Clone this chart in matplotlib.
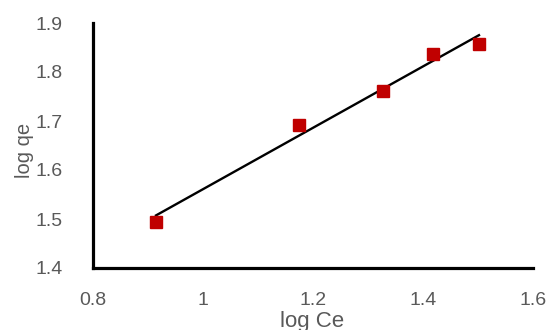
import numpy as np
import matplotlib
matplotlib.use("Agg")
import matplotlib.pyplot as plt

log_ce = [0.9145, 1.1745, 1.3267, 1.4176, 1.5018]
log_qe = [1.4945, 1.692, 1.761, 1.836, 1.857]
x_ticks = [0.8, 1.0, 1.2, 1.4, 1.6]
x_tick_labels = ["0.8", "1", "1.2", "1.4", "1.6"]
y_ticks = [1.4, 1.5, 1.6, 1.7, 1.8, 1.9]
y_tick_labels = ["1.4", "1.5", "1.6", "1.7", "1.8", "1.9"]

plt.rcParams['font.family'] = ['Liberation Sans', 'DejaVu Sans']

fig = plt.figure(figsize=(5.47, 3.30), dpi=100)
ax = fig.add_axes([93/547, 62/330, 440/547, 245/330])

slope, intercept = np.polyfit(log_ce, log_qe, 1)
xf = np.array([min(log_ce), max(log_ce)])
ax.plot(xf, slope * xf + intercept, color='black', lw=1.7, zorder=2)
ax.plot(log_ce, log_qe, 's', color='#C00000', markersize=8, zorder=3)

ax.set_xlim(0.8, 1.6)
ax.set_ylim(1.4, 1.9)
ax.set_xticks(x_ticks)
ax.set_xticklabels(x_tick_labels)
ax.set_yticks(y_ticks)
ax.set_yticklabels(y_tick_labels)
ax.tick_params(length=0, labelsize=14, labelcolor='#595959')
ax.tick_params(axis='x', pad=17)
ax.tick_params(axis='y', pad=22)

for s in ['top', 'right']:
    ax.spines[s].set_visible(False)
for s in ['left', 'bottom']:
    ax.spines[s].set_linewidth(2.3)
    ax.spines[s].set_color('black')

ax.set_xlabel('log Ce', fontsize=16, color='#595959')
ax.set_ylabel('log qe', fontsize=14.5, color='#595959')
ax.xaxis.set_label_coords((312 - 93) / 440, (268 - 311) / 245)
ax.yaxis.set_label_coords((34 - 93) / 440, (268 - 150) / 245)

fig.savefig('out.png', dpi=100)
